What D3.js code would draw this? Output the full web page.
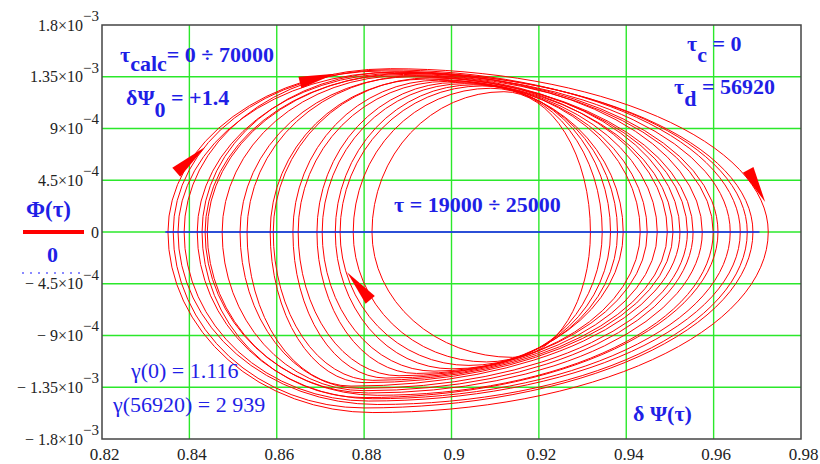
<!DOCTYPE html>
<html>
<head>
<meta charset="utf-8">
<script src="https://cdn.jsdelivr.net/npm/d3@7/dist/d3.min.js"></script>
<style>
	body { margin: 0; background: #fff; }
</style>
</head>
<body>
<script>
// axis ticks
var xTicks = [0.82, 0.84, 0.86, 0.88, 0.9, 0.92, 0.94, 0.96, 0.98];
var xTickLabels = ["0.82", "0.84", "0.86", "0.88", "0.9", "0.92", "0.94", "0.96", "0.98"];
var yTicks = [1.8e-3, 1.35e-3, 9e-4, 4.5e-4, 0, -4.5e-4, -9e-4, -1.35e-3, -1.8e-3];
var yTickMant = ["1.8", "1.35", "9", "4.5", "0", "\u2212 4.5", "\u2212 9", "\u2212 1.35", "\u2212 1.8"];
var yTickExp = ["\u22123", "\u22123", "\u22124", "\u22124", "", "\u22124", "\u22124", "\u22123", "\u22123"];

// loops of the trajectory Phi(tau) vs dPsi(tau):
// left / right crossing of Phi = 0, top point, bottom point
var loopLeft  = [0.8351, 0.8363, 0.8374, 0.8388, 0.8418, 0.8429, 0.8436, 0.8441, 0.8475, 0.8516, 0.8532,
                 0.8585, 0.8592, 0.8637, 0.8649, 0.8692, 0.8704, 0.8734, 0.8745, 0.8775, 0.8818];
var loopRight = [0.9725, 0.9690, 0.9677, 0.9661, 0.9638, 0.9610, 0.9599, 0.9574, 0.9553, 0.9540, 0.9523,
                 0.9507, 0.9494, 0.9471, 0.9448, 0.9432, 0.9393, 0.9380, 0.9364, 0.9345, 0.9318];
var loopTopX  = [0.886, 0.884, 0.887, 0.885, 0.888, 0.887, 0.889, 0.890, 0.889, 0.891, 0.892,
                 0.894, 0.895, 0.897, 0.899, 0.901, 0.903, 0.905, 0.907, 0.909, 0.912];
var loopTopY  = [1.42e-3, 1.40e-3, 1.39e-3, 1.41e-3, 1.38e-3, 1.39e-3, 1.37e-3, 1.38e-3, 1.36e-3, 1.35e-3, 1.36e-3,
                 1.33e-3, 1.34e-3, 1.32e-3, 1.31e-3, 1.30e-3, 1.29e-3, 1.28e-3, 1.27e-3, 1.25e-3, 1.22e-3];
var loopBotX  = [0.882, 0.880, 0.883, 0.881, 0.882, 0.880, 0.883, 0.881, 0.880, 0.879, 0.877,
                 0.880, 0.882, 0.885, 0.888, 0.892, 0.896, 0.900, 0.904, 0.908, 0.914];
var loopBotY  = [-1.57e-3, -1.53e-3, -1.50e-3, -1.47e-3, -1.45e-3, -1.44e-3, -1.42e-3, -1.40e-3, -1.38e-3, -1.36e-3, -1.34e-3,
                 -1.31e-3, -1.29e-3, -1.27e-3, -1.25e-3, -1.23e-3, -1.21e-3, -1.19e-3, -1.16e-3, -1.13e-3, -1.09e-3];

// direction arrows: tail -> tip
var arrowTail = [[0.8370, 5.2e-4], [0.8653, 1.30e-3], [0.9679, 5.4e-4], [0.8814, -5.9e-4]];
var arrowTip  = [[0.8436, 7.4e-4], [0.8734, 1.376e-3], [0.9718, 2.6e-4], [0.8761, -3.5e-4]];

// the "0" series spans the dPsi range
var zeroLine = [[0.8345, 0], [0.9705, 0]];

var FONT = "'Liberation Serif', 'Times New Roman', 'DejaVu Serif', serif";
var width = 820, height = 464;
var x = d3.scaleLinear().domain([0.82, 0.98]).range([102, 801]);
var y = d3.scaleLinear().domain([-1.8e-3, 1.8e-3]).range([439, 25]);

var svg = d3.select("body").append("svg")
	.attr("width", width)
	.attr("height", height)
	.style("font-family", FONT);

// green grid
svg.append("g").selectAll("line")
	.data(xTicks.slice(1, -1))
	.enter().append("line")
	.attr("x1", function(d) { return x(d); })
	.attr("x2", function(d) { return x(d); })
	.attr("y1", y(1.8e-3)).attr("y2", y(-1.8e-3))
	.attr("stroke", "#2be82b").attr("stroke-width", 1.4);
svg.append("g").selectAll("line")
	.data(yTicks.slice(1, -1))
	.enter().append("line")
	.attr("y1", function(d) { return y(d); })
	.attr("y2", function(d) { return y(d); })
	.attr("x1", x(0.82)).attr("x2", x(0.98))
	.attr("stroke", "#2be82b").attr("stroke-width", 1.4);

// loops, each one drawn as four quarter ellipses through its extreme points
function loopPath(i) {
	var xl = x(loopLeft[i]), xr = x(loopRight[i]), y0 = y(0);
	var xt = x(loopTopX[i]), yt = y(loopTopY[i]);
	var xb = x(loopBotX[i]), yb = y(loopBotY[i]);
	return "M" + xl + "," + y0 +
		"A" + (xt - xl) + "," + (y0 - yt) + " 0 0 1 " + xt + "," + yt +
		"A" + (xr - xt) + "," + (y0 - yt) + " 0 0 1 " + xr + "," + y0 +
		"A" + (xr - xb) + "," + (yb - y0) + " 0 0 1 " + xb + "," + yb +
		"A" + (xb - xl) + "," + (yb - y0) + " 0 0 1 " + xl + "," + y0 + "Z";
}
svg.append("g").selectAll("path")
	.data(d3.range(loopLeft.length))
	.enter().append("path")
	.attr("d", loopPath)
	.attr("fill", "none")
	.attr("stroke", "#ff0000")
	.attr("stroke-width", 1);

// arrow heads
svg.append("g").selectAll("polygon")
	.data(d3.range(arrowTip.length))
	.enter().append("polygon")
	.attr("points", function(i) {
		var tx = x(arrowTip[i][0]), ty = y(arrowTip[i][1]);
		var bx = x(arrowTail[i][0]), by = y(arrowTail[i][1]);
		var dx = tx - bx, dy = ty - by, len = Math.sqrt(dx * dx + dy * dy);
		var nx = -dy / len * 6, ny = dx / len * 6;
		return [[tx, ty], [bx + nx, by + ny], [bx - nx, by - ny]].join(" ");
	})
	.attr("fill", "#ff0000");

// zero line (blue)
svg.append("path")
	.datum(zeroLine)
	.attr("d", d3.line().x(function(d) { return x(d[0]); }).y(function(d) { return y(d[1]); }))
	.attr("stroke", "#1a1aff")
	.attr("stroke-width", 1.4);

// frame
svg.append("rect")
	.attr("x", x(0.82)).attr("y", y(1.8e-3))
	.attr("width", x(0.98) - x(0.82))
	.attr("height", y(-1.8e-3) - y(1.8e-3))
	.attr("fill", "none")
	.attr("stroke", "#444")
	.attr("stroke-width", 1.5);

// axes
var xAxis = svg.append("g")
	.attr("transform", "translate(0," + y(-1.8e-3) + ")")
	.call(d3.axisBottom(x).tickValues(xTicks).tickSize(0).tickPadding(9)
		.tickFormat(function(d, i) { return xTickLabels[i]; }));
xAxis.attr("font-family", null).attr("font-size", null);
xAxis.select(".domain").remove();
xAxis.selectAll("text")
	.style("font-family", FONT).style("font-size", "17px")
	.attr("fill", "#222").attr("dx", 2);

var yAxis = svg.append("g")
	.attr("transform", "translate(" + x(0.82) + ",0)")
	.call(d3.axisLeft(y).tickValues(yTicks).tickSize(0).tickPadding(3).tickFormat(""));
yAxis.attr("font-family", null).attr("font-size", null);
yAxis.select(".domain").remove();
yAxis.selectAll(".tick text").each(function(d, i) {
	var t = d3.select(this).style("font-family", FONT).style("font-size", "16px").attr("fill", "#222");
	t.append("tspan").text(yTickMant[i] + (yTickExp[i] ? "\u00d710" : ""));
	if (yTickExp[i]) {
		t.append("tspan").attr("dy", "-0.65em").style("font-size", "15px").text(yTickExp[i]);
	}
});

// annotations
function note(px, py, parts, bold) {
	var t = svg.append("text")
		.attr("x", px).attr("y", py)
		.attr("fill", "#1f1fe6")
		.style("font-family", FONT)
		.style("font-size", "22px")
		.style("font-weight", bold === false ? "normal" : "bold");
	parts.forEach(function(p) {
		var s = t.append("tspan").text(p[0]);
		if (p[1]) s.attr("dy", p[1]);
	});
	return t;
}
note(120, 62, [["\u03c4"], ["calc", 9], ["= 0 \u00f7 70000", -9]]);
note(126, 105, [["\u03b4\u03a8"], ["0", 12], [" = +1.4", -12]]);
note(687, 51, [["\u03c4"], ["c", 11], [" = 0", -11]]);
note(674, 94, [["\u03c4"], ["d", 12], [" = 56920", -12]]);
note(394, 212, [["\u03c4  = 19000 \u00f7 25000"]]);
note(131, 378, [["\u03b3(0) = 1.116"]], false);
note(113, 412, [["\u03b3(56920) = 2 939"]], false);
note(633, 421, [["\u03b4 \u03a8(\u03c4)"]]);

// legend
note(26, 217, [["\u03a6(\u03c4)"]]).style("font-size", "23px");
svg.append("line")
	.attr("x1", 23).attr("x2", 84).attr("y1", 232).attr("y2", 232)
	.attr("stroke", "#ff0000").attr("stroke-width", 4);
note(47, 262, [["0"]]);
svg.append("line")
	.attr("x1", 22).attr("x2", 80).attr("y1", 273).attr("y2", 273)
	.attr("stroke", "#8a8aff").attr("stroke-width", 2).attr("stroke-dasharray", "2,6");
</script>
</body>
</html>
